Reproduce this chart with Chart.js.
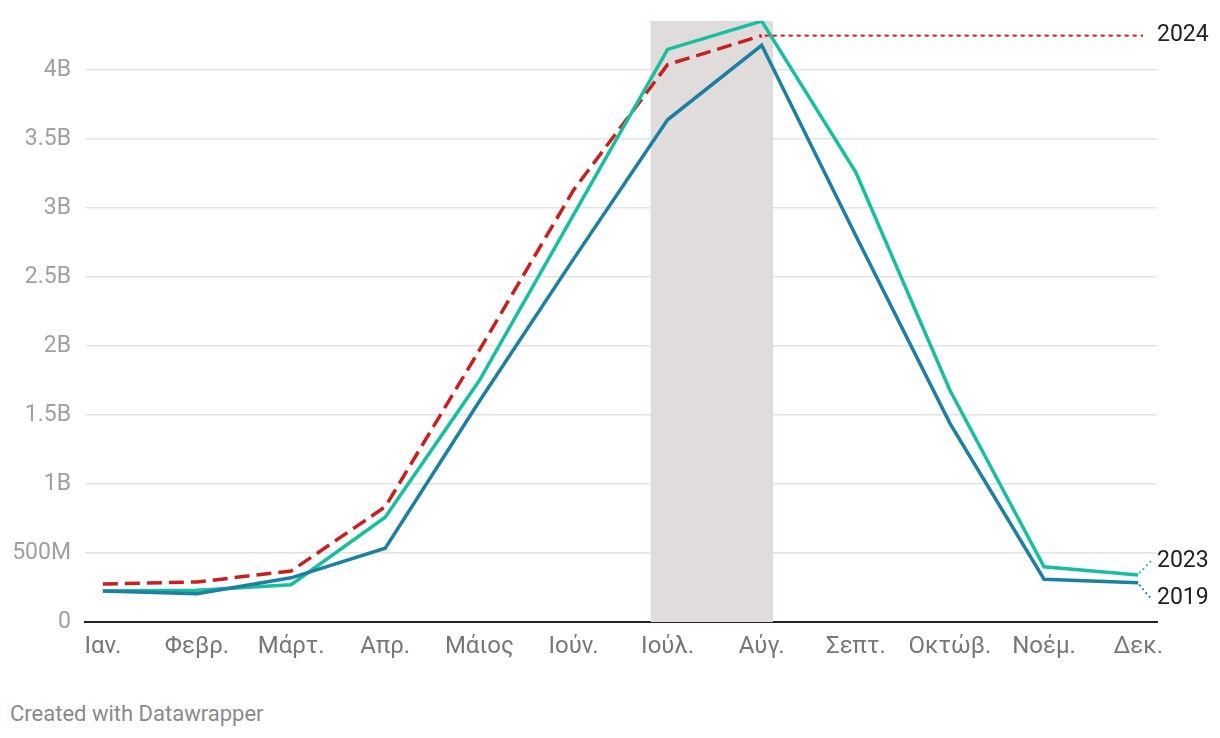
<!DOCTYPE html>
<html>
<head>
<meta charset="utf-8">
<script src="https://cdn.jsdelivr.net/npm/chart.js@4/dist/chart.umd.min.js"></script>
<style>
    html, body { margin: 0; padding: 0; background: #fff; }
    body { width: 1220px; height: 738px; overflow: hidden; font-family: Roboto, "Noto Sans", sans-serif; }
    #wrap { position: relative; width: 1220px; height: 690px; }
    #footer { position: absolute; left: 10px; top: 701px; font-size: 22px; color: #8a8a8a; }
</style>
</head>
<body>
<div id="wrap"><canvas id="lineChart"></canvas></div>
<div id="footer">Created with Datawrapper</div>

<script>
// Months (Greek abbreviations)
const months = ['Ιαν.', 'Φεβρ.', 'Μάρτ.', 'Απρ.', 'Μάιος', 'Ιούν.', 'Ιούλ.', 'Αύγ.', 'Σεπτ.', 'Οκτώβ.', 'Νοέμ.', 'Δεκ.'];

// Values in billions
const values2019 = [0.225, 0.205, 0.32, 0.535, 1.6, 2.63, 3.64, 4.18, 2.8, 1.44, 0.31, 0.285];
const values2023 = [0.225, 0.23, 0.27, 0.76, 1.75, 2.95, 4.15, 4.355, 3.26, 1.68, 0.40, 0.34];
const values2024 = [0.275, 0.29, 0.37, 0.835, 1.97, 3.13, 4.04, 4.25];

const yTicks = [0, 0.5, 1, 1.5, 2, 2.5, 3, 3.5, 4];
const yTickLabels = ['0', '500M', '1B', '1.5B', '2B', '2.5B', '3B', '3.5B', '4B'];

const BLUE = '#1d7fa1';
const TEAL = '#18bf9f';
const RED = '#c8201f';

function toPoints(arr) {
    return arr.map(function (v, i) { return { x: i, y: v }; });
}

// Grey band behind July-August
const shadePlugin = {
    id: 'shade',
    beforeDatasetsDraw: function (chart) {
        const ctx = chart.ctx;
        const xs = chart.scales.x;
        const area = chart.chartArea;
        const x0 = xs.getPixelForValue(6 - 0.18);
        const x1 = xs.getPixelForValue(7 + 0.12);
        ctx.save();
        ctx.fillStyle = '#e0dcdb';
        ctx.fillRect(x0, area.top, x1 - x0, area.bottom - area.top);
        ctx.restore();
    }
};

// Series labels on the right
const labelPlugin = {
    id: 'endLabels',
    afterDatasetsDraw: function (chart) {
        const ctx = chart.ctx;
        const area = chart.chartArea;
        ctx.save();
        ctx.font = '23px Roboto';
        ctx.fillStyle = '#222';
        ctx.textBaseline = 'middle';
        ctx.textAlign = 'left';

        // 2024: horizontal dotted line from last point
        const p24 = chart.getDatasetMeta(2).data[values2024.length - 1];
        ctx.strokeStyle = RED;
        ctx.lineWidth = 2;
        ctx.setLineDash([4, 4]);
        ctx.beginPath();
        ctx.moveTo(p24.x + 3, p24.y);
        ctx.lineTo(area.right - 14, p24.y);
        ctx.stroke();
        ctx.fillText('2024', area.right, p24.y);

        // 2023 and 2019: short dotted leaders
        const p23 = chart.getDatasetMeta(1).data[11];
        const p19 = chart.getDatasetMeta(0).data[11];
        const y23 = p23.y - 14;
        const y19 = p19.y + 16;
        ctx.lineWidth = 1.8;
        ctx.setLineDash([2, 3]);
        ctx.strokeStyle = TEAL;
        ctx.beginPath();
        ctx.moveTo(p23.x + 1, p23.y - 2);
        ctx.lineTo(area.right - 6, y23);
        ctx.stroke();
        ctx.strokeStyle = BLUE;
        ctx.beginPath();
        ctx.moveTo(p19.x + 1, p19.y + 2);
        ctx.lineTo(area.right - 6, y19);
        ctx.stroke();
        ctx.fillText('2023', area.right, y23);
        ctx.fillText('2019', area.right, y19);
        ctx.restore();
    }
};

document.addEventListener("DOMContentLoaded", function () {
    const ctx = document.getElementById('lineChart').getContext('2d');

    new Chart(ctx, {
        type: 'line',
        data: {
            datasets: [
                {
                    label: '2019',
                    data: toPoints(values2019),
                    borderColor: BLUE,
                    borderWidth: 3.5
                },
                {
                    label: '2023',
                    data: toPoints(values2023),
                    borderColor: TEAL,
                    borderWidth: 3.5
                },
                {
                    label: '2024',
                    data: toPoints(values2024),
                    borderColor: RED,
                    borderWidth: 3.5,
                    borderDash: [15, 7]
                }
            ]
        },
        plugins: [shadePlugin, labelPlugin],
        options: {
            responsive: true,
            maintainAspectRatio: false,
            animation: false,
            layout: { padding: { top: 21, right: 63, left: 0, bottom: 0 } },
            elements: {
                point: { radius: 0, hoverRadius: 0 },
                line: { tension: 0, borderJoinStyle: 'miter' }
            },
            plugins: {
                legend: { display: false },
                tooltip: { enabled: false }
            },
            scales: {
                x: {
                    type: 'linear',
                    min: -0.19,
                    max: 11.2,
                    afterBuildTicks: function (scale) {
                        scale.ticks = months.map(function (m, i) { return { value: i }; });
                    },
                    afterFit: function (scale) { scale.height = 68; },
                    grid: { display: false, drawTicks: false },
                    border: { display: true, color: '#222', width: 2 },
                    ticks: {
                        color: '#777',
                        padding: 11,
                        maxRotation: 0,
                        autoSkip: false,
                        font: { family: 'Roboto', size: 24 },
                        callback: function (v) { return months[v]; }
                    }
                },
                y: {
                    min: 0,
                    max: 4.356,
                    afterBuildTicks: function (scale) {
                        scale.ticks = yTicks.map(function (v) { return { value: v }; });
                    },
                    afterFit: function (scale) { scale.width = 85; },
                    grid: { color: '#e3e3e3', lineWidth: 1.5, drawTicks: false },
                    border: { display: false },
                    ticks: {
                        color: '#a0a0a0',
                        padding: 14,
                        font: { family: 'Roboto', size: 23, lineHeight: 0.5 },
                        callback: function (v) {
                            const i = yTicks.indexOf(v);
                            return i >= 0 ? yTickLabels[i] : '';
                        }
                    }
                }
            }
        }
    });
});
</script>
</body>
</html>
